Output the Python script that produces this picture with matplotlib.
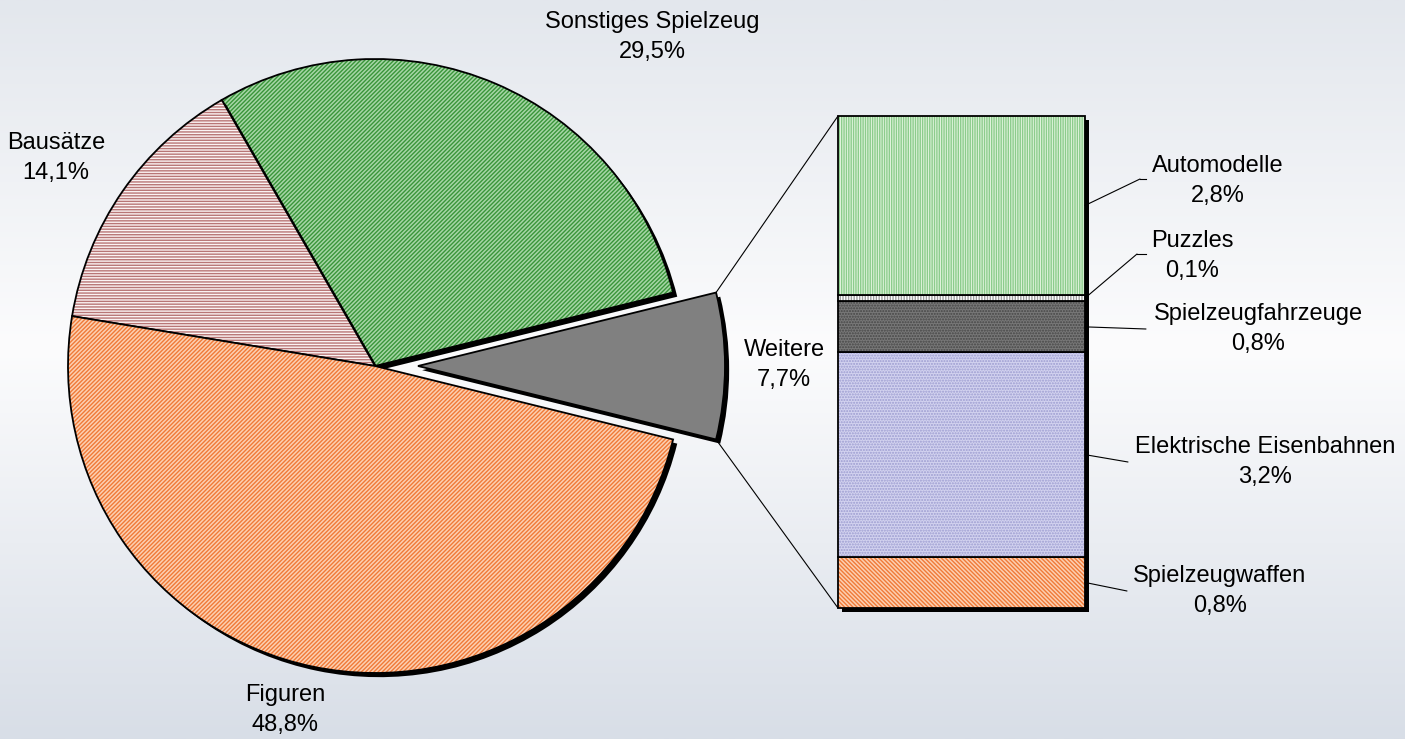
import numpy as np
import matplotlib
matplotlib.use('Agg')
import matplotlib.pyplot as plt
import matplotlib.patheffects as pe
from matplotlib.patches import ConnectionPatch
from matplotlib.colors import LinearSegmentedColormap

plt.rcParams['font.family'] = ['Liberation Sans', 'DejaVu Sans']
plt.rcParams['hatch.linewidth'] = 1.0

# pie shares (%), counter-clockwise starting with the exploded slice
pie_labels = ['Weitere', 'Sonstiges Spielzeug', 'Bausätze', 'Figuren']
pie_values = [7.7, 29.5, 14.1, 48.8]
# breakdown of "Weitere", bottom to top of the stacked bar
sub_labels = ['Spielzeugwaffen', 'Elektrische Eisenbahnen', 'Spielzeugfahrzeuge', 'Puzzles', 'Automodelle']
sub_values = [0.8, 3.2, 0.8, 0.1, 2.8]


def pct(v):
    return f'{v:.1f}%'.replace('.', ',')


W, H = 1405, 739
fig = plt.figure(figsize=(W / 100, H / 100), dpi=100)

# background gradient
bg = fig.add_axes([0, 0, 1, 1])
cmap = LinearSegmentedColormap.from_list('bg', [(0, '#e3e7ed'), (0.47, '#fcfcfd'), (1, '#d8dee7')])
bg.imshow(np.linspace(0, 1, 256).reshape(-1, 1), cmap=cmap, aspect='auto', extent=[0, 1, 0, 1])
bg.axis('off')

# main axes in pixel units (y up)
ax = fig.add_axes([0, 0, 1, 1])
ax.axis('off')

pie_style = [
    dict(facecolor='#808080', hatch=None, edgecolor='#808080'),
    dict(facecolor='#a6d6a6', hatch='////////', edgecolor='#3a963a'),
    dict(facecolor='#fbf3f3', hatch='------', edgecolor='#b87676'),
    dict(facecolor='#fcd0b2', hatch='////////', edgecolor='#f07a38'),
]
shadow = pe.SimplePatchShadow(offset=(3, -3), shadow_rgbFace='black', alpha=1, hatch=None)
outline = pe.Stroke(linewidth=1.3, foreground='black')

R = 307
wedges, _ = ax.pie(pie_values, explode=[0.14 * R, 0, 0, 0],
                   startangle=-pie_values[0] / sum(pie_values) * 180,
                   center=(375, 373), radius=R, wedgeprops=dict(linewidth=0))
for w, st in zip(wedges, pie_style):
    w.set_facecolor(st['facecolor'])
    w.set_edgecolor(st['edgecolor'])
    w.set_hatch(st['hatch'])
    w.set_path_effects([shadow, outline])
ax.set_aspect('auto')
ax.set_xlim(0, W)
ax.set_ylim(0, H)

pie_pos = [(784, 365), (652, 37), (56, 158), (285, 710)]
for lab, v, (x, y) in zip(pie_labels, pie_values, pie_pos):
    ax.text(x, H - y, f'{lab}\n{pct(v)}', ha='center', va='center', fontsize=17,
            linespacing=1.45, multialignment='center')

# stacked bar for "Weitere"
bx = fig.add_axes([838 / W, (H - 608) / H, 247 / W, 492 / H])
bx.axis('off')
total = sum(sub_values)
bottoms = np.concatenate([[0], np.cumsum(sub_values)[:-1]])
base = bx.bar(0, total, width=1, color='white', linewidth=0)
base[0].set_path_effects([pe.SimplePatchShadow(offset=(3, -3), shadow_rgbFace='black', alpha=1), pe.Normal()])
base[0].set_clip_on(False)

sub_style = [
    dict(facecolor='#fcd0b2', hatch='\\\\\\\\\\\\\\\\', edgecolor='#f07a38'),
    dict(facecolor='#d2d2ef', hatch='......', edgecolor='#9c9cd0'),
    dict(facecolor='#787878', hatch='......', edgecolor='#464646'),
    dict(facecolor='white', hatch='||||||', edgecolor='#a0a0a0'),
    dict(facecolor='#e2f5de', hatch='|||||||', edgecolor='#8ccc8c'),
]
bars = bx.bar(np.zeros(len(sub_values)), sub_values, bottom=bottoms, width=1, linewidth=0)
for b, st in zip(bars, sub_style):
    b.set_facecolor(st['facecolor'])
    b.set_edgecolor(st['edgecolor'])
    b.set_hatch(st['hatch'])
    b.set_path_effects([outline])
    b.set_clip_on(False)
bx.set_xlim(-0.5, 0.5)
bx.set_ylim(0, total)

# lines from the exploded wedge to the bar
w = wedges[0]
cx, cy = w.center
for th, yb in [(w.theta2, total), (w.theta1, 0)]:
    p = (cx + w.r * np.cos(np.radians(th)), cy + w.r * np.sin(np.radians(th)))
    fig.add_artist(ConnectionPatch(xyA=p, coordsA=ax.transData, xyB=(-0.5, yb),
                                   coordsB=bx.transData, color='black', lw=0.8))

# labels and leaders for the bar segments
sub_pos = [(1220, 591), (1265, 462), (1258, 329), (1192, 256), (1218, 181)]
leader_end = [(1127, 591, None), (1128, 462, None), (1146, 329, None), (1137, 254, 1146), (1140, 179, 1146)]
for lab, v, b0, (x, y), (lx, ly, lx2) in zip(sub_labels, sub_values, bottoms, sub_pos, leader_end):
    fig.add_artist(ConnectionPatch(xyA=(0.5, b0 + v / 2), coordsA=bx.transData, xyB=(lx, H - ly),
                                   coordsB=ax.transData, color='black', lw=0.8))
    if lx2 is not None:
        ax.plot([lx, lx2], [H - ly, H - ly], color='black', lw=0.8)
    ax.text(x, H - y, f'{lab}\n{pct(v)}', ha='center', va='center', fontsize=17,
            linespacing=1.45, multialignment='center')

fig.savefig('out.png', dpi=100)
